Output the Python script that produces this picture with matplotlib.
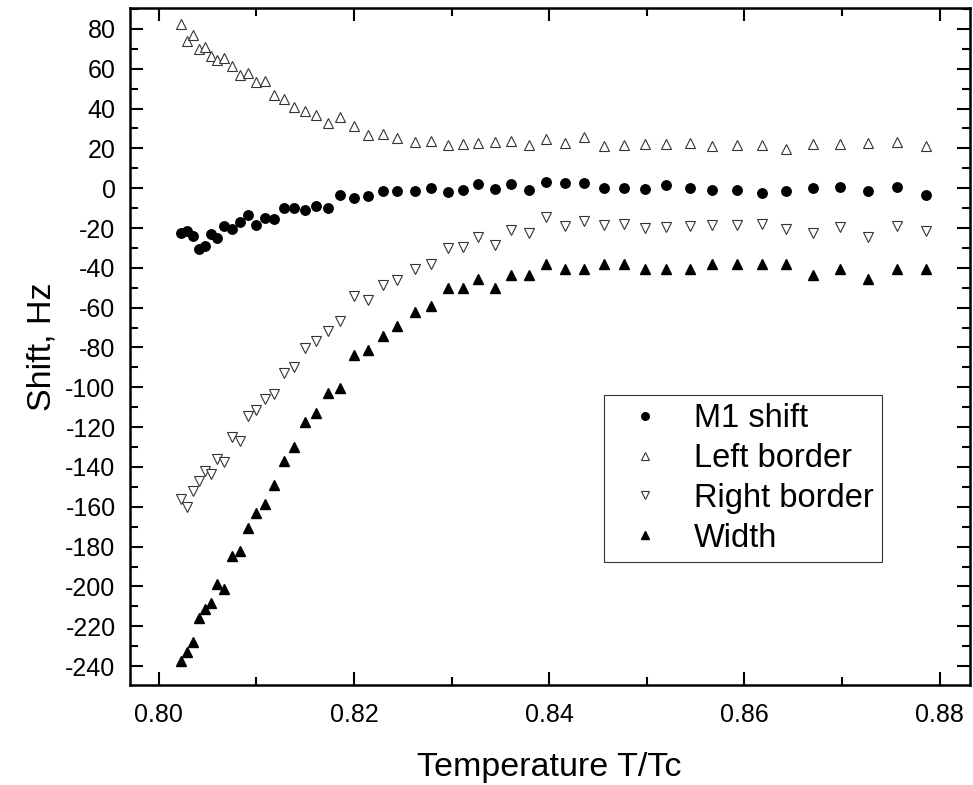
#import necessary libraries
import matplotlib.pyplot as plt
from matplotlib.ticker import MultipleLocator

# reduced temperature T/Tc (shared by all series)
temp = [0.8023, 0.8029, 0.8035, 0.8041, 0.8047, 0.8053, 0.8060, 0.8067, 0.8075, 0.8083,
        0.8091, 0.8100, 0.8109, 0.8118, 0.8128, 0.8139, 0.8150, 0.8161, 0.8173, 0.8186,
        0.8200, 0.8214, 0.8230, 0.8244, 0.8262, 0.8279, 0.8296, 0.8312, 0.8327, 0.8344,
        0.8361, 0.8379, 0.8397, 0.8416, 0.8436, 0.8456, 0.8477, 0.8498, 0.8520, 0.8544,
        0.8567, 0.8592, 0.8618, 0.8643, 0.8670, 0.8698, 0.8727, 0.8756, 0.8786]

m1_shift = [-22.4, -21.6, -24.1, -30.5, -29.1, -22.9, -24.9, -19.2, -20.4, -17.1,
            -13.7, -18.4, -14.9, -15.7, -9.9, -10.0, -10.7, -9.0, -9.9, -3.3,
            -4.8, -3.7, -1.2, -1.5, -1.5, 0.0, -1.7, -0.7, 1.9, -0.3,
            2.2, -0.7, 3.0, 2.7, 2.5, 0.2, 0.0, -0.3, 1.4, 0.0,
            -0.8, -0.8, -2.3, -1.2, 0.2, 0.5, -1.2, 0.5, -3.2]

left_border = [82.6, 73.9, 76.7, 70.0, 70.9, 66.3, 64.5, 65.3, 61.2, 57.1,
               57.8, 53.3, 53.8, 46.6, 44.9, 40.7, 39.0, 37.0, 32.7, 35.7,
               31.0, 26.5, 27.3, 25.3, 23.1, 23.6, 21.8, 22.3, 22.6, 23.1,
               23.6, 21.8, 24.8, 22.6, 25.6, 21.1, 21.8, 22.0, 22.3, 22.6,
               21.1, 21.5, 21.5, 19.8, 22.0, 22.3, 22.8, 23.1, 21.1]

right_border = [-156.1, -160.3, -152.3, -146.9, -141.9, -143.5, -136.0, -137.7, -125.1, -127.1,
                -114.6, -111.4, -105.8, -103.3, -93.0, -89.9, -80.2, -76.9, -71.5, -66.5,
                -54.3, -56.1, -48.4, -45.9, -40.5, -38.0, -30.0, -29.3, -24.3, -28.4,
                -20.9, -22.6, -14.6, -19.2, -16.6, -18.7, -17.9, -20.1, -19.6, -19.2,
                -18.7, -18.7, -18.2, -20.4, -22.6, -19.6, -24.3, -19.2, -21.3]

width = [-237.7, -232.8, -228.1, -215.9, -211.4, -208.5, -198.8, -201.3, -184.6, -182.4,
         -170.7, -163.3, -158.6, -149.0, -136.8, -129.8, -117.6, -112.9, -103.0, -100.5,
         -83.6, -81.2, -74.0, -69.0, -62.3, -59.4, -50.1, -50.1, -45.5, -50.1,
         -43.4, -43.4, -38.3, -40.5, -40.5, -38.3, -38.0, -40.5, -40.5, -40.5,
         -38.3, -38.3, -38.3, -38.3, -43.4, -40.5, -45.5, -40.5, -40.5]

plt.rcParams['font.family'] = ['Liberation Sans', 'DejaVu Sans']
plt.rcParams['axes.unicode_minus'] = False

fig = plt.figure(figsize=(9.73, 7.85), dpi=100)
ax = fig.add_axes([0.1331, 0.1274, 0.8638, 0.8624])

ax.plot(temp, m1_shift, 'o', ms=6.8, color='black', label='M1 shift')
ax.plot(temp, left_border, '^', ms=7.5, mfc='white', mec='#333333', mew=0.8, label='Left border')
ax.plot(temp, right_border, 'v', ms=7.5, mfc='white', mec='#333333', mew=0.8, label='Right border')
ax.plot(temp, width, '^', ms=7.5, color='black', label='Width')

ax.set_xlim(0.797, 0.8831)
ax.set_ylim(-249.5, 90.5)
ax.xaxis.set_major_locator(MultipleLocator(0.02))
ax.xaxis.set_minor_locator(MultipleLocator(0.01))
ax.yaxis.set_major_locator(MultipleLocator(20))
ax.yaxis.set_minor_locator(MultipleLocator(10))
ax.xaxis.set_major_formatter(plt.FormatStrFormatter('%.2f'))

for s in ax.spines.values():
    s.set_linewidth(1.8)
ax.tick_params(which='both', direction='in', top=True, right=True, width=1.5)
ax.tick_params(which='major', length=9.5, labelsize=18)
ax.tick_params(axis='x', which='major', pad=13)
ax.tick_params(axis='y', which='major', pad=10)
ax.tick_params(which='minor', length=5.5)

ax.set_xlabel('Temperature T/Tc', fontsize=24.5, labelpad=18)
ax.set_ylabel('Shift, Hz', fontsize=24.5, labelpad=6)

leg = ax.legend(loc='upper left', bbox_to_anchor=(0.5646, 0.4284), borderaxespad=0,
                fontsize=23.5, markerscale=0.8, frameon=True, fancybox=False,
                handlelength=2.0, handletextpad=0.5, borderpad=0.25, labelspacing=0.27)
leg.get_frame().set_edgecolor('black')
leg.get_frame().set_linewidth(0.8)

plt.savefig('out.png', dpi=100)
